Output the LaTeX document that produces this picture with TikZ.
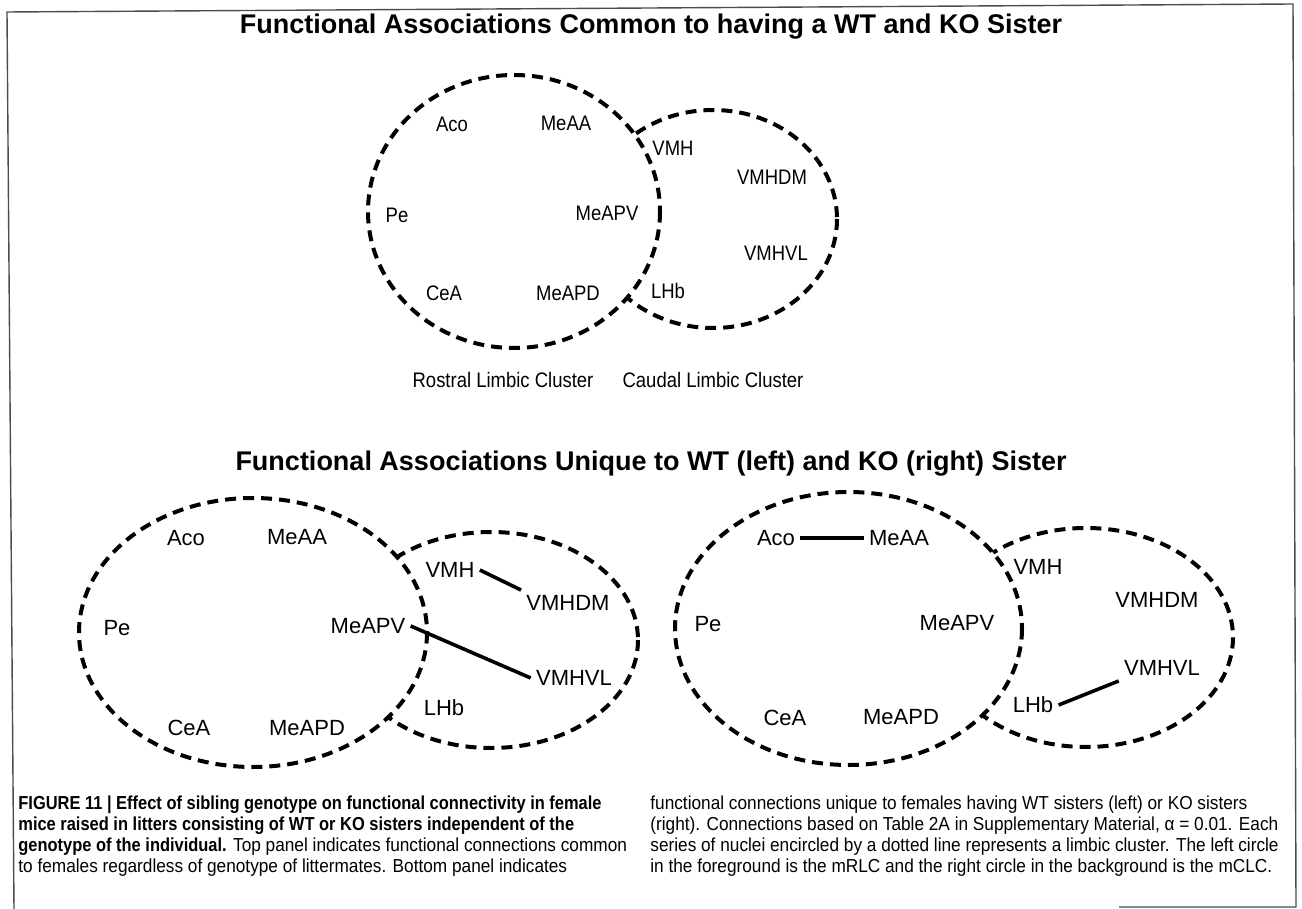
\documentclass[tikz,border=0pt]{standalone}
\usepackage{fontspec}
\setmainfont{Liberation Sans}
\newfontfamily\topfont[FakeStretch=0.88]{Liberation Sans}
\newfontfamily\capfont[FakeStretch=0.917]{Liberation Sans}
\newfontfamily\capbold[FakeStretch=0.875]{Liberation Sans}
\begin{document}
\begin{tikzpicture}[x=0.5pt,y=-0.5pt,
  clus/.style={line width=2pt, dash pattern=on 5.5pt off 3.5pt},
  lt/.style={font=\topfont\fontsize{10.5}{12}\selectfont, inner sep=2.5pt},
  lb/.style={font=\fontsize{11}{13}\selectfont, inner sep=2.5pt},
  conn/.style={line width=1.8pt},
  ttl/.style={font=\bfseries\fontsize{13.5}{16}\selectfont, inner sep=0pt},
  capl/.style={anchor=base west, inner sep=0pt, font=\capfont\fontsize{9.4}{11}\selectfont},
  frm/.style={line width=0.7pt, black!70}]
\useasboundingbox (0,0) rectangle (1302,909);
% frame
\draw[frm] (14,909) -- (7,12) -- (1293,4) -- (1296,907) -- (1119,907);

% titles
\node[ttl] (t1) at (651,27) {Functional Associations Common to having a WT and KO Sister};
\node[ttl] (t2) at (651,464) {Functional Associations Unique to WT (left) and KO (right) Sister};

% ---------- top panel ----------
\draw[clus] (713,219) ellipse [x radius=124, y radius=109];
\filldraw[clus, fill=white] (514,211.5) ellipse [x radius=146, y radius=136.5];
\node[lt] (aAco) at (452,124) {Aco};
\node[lt] (aMeAA) at (566,123) {MeAA};
\node[lt] (aPe) at (397,215) {Pe};
\node[lt] (aMeAPV) at (607,213) {MeAPV};
\node[lt] (aCeA) at (444,293) {CeA};
\node[lt] (aMeAPD) at (568,293) {MeAPD};
\node[lt] (aVMH) at (673,148) {VMH};
\node[lt] (aVMHDM) at (772,177) {VMHDM};
\node[lt] (aVMHVL) at (776,253) {VMHVL};
\node[lt] (aLHb) at (668,291) {LHb};
\node[lt] (rlc) at (503,380) {Rostral Limbic Cluster};
\node[lt] (clc) at (713,380) {Caudal Limbic Cluster};

% ---------- bottom left panel ----------
\draw[clus] (491,640) ellipse [x radius=147, y radius=108];
\filldraw[clus, fill=white] (253,632.5) ellipse [x radius=174, y radius=134.5];
\node[lb] (bAco) at (186,538) {Aco};
\node[lb] (bMeAA) at (297,537) {MeAA};
\node[lb] (bPe) at (117,628) {Pe};
\node[lb] (bMeAPV) at (368,626) {MeAPV};
\node[lb] (bCeA) at (189,728) {CeA};
\node[lb] (bMeAPD) at (307,728) {MeAPD};
\node[lb] (bVMH) at (450,570) {VMH};
\node[lb] (bVMHDM) at (568,603) {VMHDM};
\node[lb] (bVMHVL) at (574,678) {VMHVL};
\node[lb] (bLHb) at (444,708) {LHb};
\draw[conn] (bVMH.east) -- (bVMHDM.north west);
\draw[conn] (bMeAPV.east) -- (bVMHVL.west);

% ---------- bottom right panel ----------
\draw[clus] (1086,637.5) ellipse [x radius=147, y radius=109.5];
\filldraw[clus, fill=white] (848.5,628.5) ellipse [x radius=173.5, y radius=136.5];
\node[lb] (cAco) at (776,538) {Aco};
\node[lb] (cMeAA) at (899,538) {MeAA};
\node[lb] (cPe) at (708,624) {Pe};
\node[lb] (cMeAPV) at (957,623) {MeAPV};
\node[lb] (cCeA) at (785,718) {CeA};
\node[lb] (cMeAPD) at (901,717) {MeAPD};
\node[lb] (cVMH) at (1038,567) {VMH};
\node[lb] (cVMHDM) at (1157,600) {VMHDM};
\node[lb] (cVMHVL) at (1162,668) {VMHVL};
\node[lb] (cLHb) at (1033,705) {LHb};
\draw[conn] (cAco.east) -- (cMeAA.west);
\draw[conn] (cLHb.east) -- (cVMHVL.south west);

% ---------- caption ----------
\node[capl] (c1) at (18,809) {\capbold\bfseries FIGURE 11 | Effect of sibling genotype on functional connectivity in female};
\node[capl] (c2) at (18,830) {\capbold\bfseries mice raised in litters consisting of WT or KO sisters independent of the};
\node[capl] (c3) at (18,851) {{\capbold\bfseries genotype of the individual.} Top panel indicates functional connections common};
\node[capl] (c4) at (18,872) {to females regardless of genotype of littermates. Bottom panel indicates};
\node[capl] (d1) at (650,809) {functional connections unique to females having WT sisters (left) or KO sisters};
\node[capl] (d2) at (650,830) {(right). Connections based on Table 2A in Supplementary Material, α = 0.01. Each};
\node[capl] (d3) at (650,851) {series of nuclei encircled by a dotted line represents a limbic cluster. The left circle};
\node[capl] (d4) at (650,872) {in the foreground is the mRLC and the right circle in the background is the mCLC.};
\end{tikzpicture}
\end{document}
